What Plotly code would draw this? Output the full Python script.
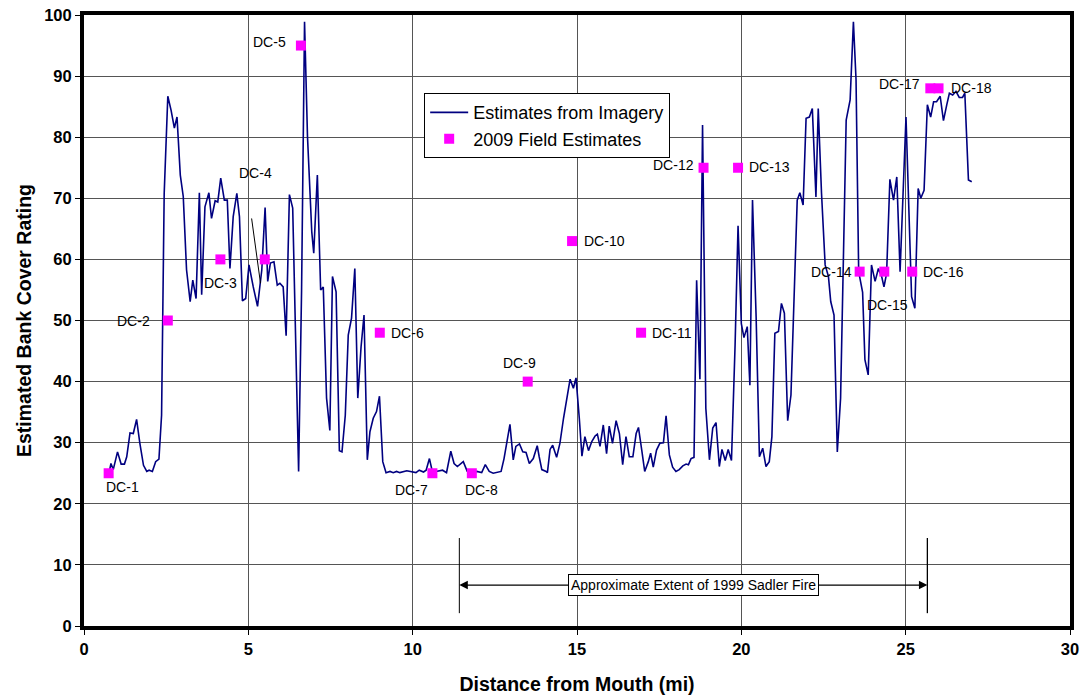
import plotly.graph_objects as go

# Bank cover rating estimated from aerial imagery along the channel
distance_mi = [
    0.78, 0.82, 0.89, 1.02, 1.13, 1.23, 1.30, 1.40, 1.50, 1.60, 1.70, 1.81, 1.91, 1.98, 2.08, 2.18,
    2.28, 2.36, 2.44, 2.55, 2.65, 2.75, 2.83, 2.93, 3.02, 3.12, 3.23, 3.31, 3.41, 3.51, 3.58, 3.68,
    3.80, 3.88, 3.99, 4.07, 4.16, 4.27, 4.36, 4.44, 4.54, 4.65, 4.73, 4.82, 4.92, 5.02, 5.15, 5.28,
    5.41, 5.51, 5.59, 5.67, 5.78, 5.88, 5.96, 6.06, 6.15, 6.25, 6.35, 6.44, 6.53, 6.62, 6.71, 6.80,
    6.93, 6.99, 7.10, 7.20, 7.28, 7.38, 7.48, 7.56, 7.67, 7.77, 7.85, 7.95, 8.04, 8.14, 8.24, 8.33,
    8.43, 8.52, 8.62, 8.70, 8.80, 8.90, 8.99, 9.09, 9.19, 9.31, 9.41, 9.51, 9.61, 9.82, 9.97, 10.10,
    10.20, 10.33, 10.41, 10.51, 10.61, 10.71, 10.91, 11.03, 11.16, 11.26, 11.36, 11.46, 11.54, 11.66,
    11.76, 11.95, 12.10, 12.21, 12.33, 12.45, 12.57, 12.69, 12.78, 12.96, 13.06, 13.14, 13.25, 13.35,
    13.45, 13.55, 13.67, 13.79, 13.85, 13.93, 14.06, 14.10, 14.18, 14.26, 14.38, 14.48, 14.59, 14.69,
    14.79, 14.89, 14.97, 15.07, 15.15, 15.24, 15.35, 15.45, 15.55, 15.62, 15.70, 15.80, 15.90, 15.98,
    16.08, 16.19, 16.29, 16.39, 16.49, 16.59, 16.70, 16.80, 16.87, 16.97, 17.06, 17.17, 17.24, 17.32,
    17.42, 17.52, 17.63, 17.71, 17.81, 17.91, 18.01, 18.11, 18.22, 18.32, 18.39, 18.47, 18.56, 18.64,
    18.74, 18.82, 18.92, 19.03, 19.13, 19.23, 19.33, 19.41, 19.51, 19.60, 19.70, 19.81, 19.90, 20.00,
    20.08, 20.18, 20.26, 20.34, 20.45, 20.55, 20.65, 20.75, 20.85, 20.93, 21.02, 21.13, 21.22, 21.31,
    21.41, 21.51, 21.70, 21.78, 21.88, 21.97, 22.07, 22.16, 22.27, 22.34, 22.44, 22.55, 22.65, 22.72,
    22.82, 22.92, 23.02, 23.19, 23.31, 23.41, 23.49, 23.57, 23.69, 23.76, 23.86, 23.96, 24.07, 24.17,
    24.27, 24.34, 24.42, 24.52, 24.63, 24.73, 24.83, 25.01, 25.18, 25.28, 25.38, 25.46, 25.56, 25.66,
    25.76, 25.85, 25.94, 26.05, 26.15, 26.25, 26.33, 26.43, 26.53, 26.63, 26.73, 26.80, 26.91, 27.01,
]
imagery_rating = [
    25.5, 26.6, 25.6, 28.5, 26.5, 26.5, 27.7, 31.6, 31.5, 33.8, 29.9, 26.3, 25.3, 25.5, 25.3, 26.9,
    27.3, 34.5, 70.8, 86.7, 84.4, 81.5, 83.3, 73.8, 70.3, 58.3, 53.1, 56.6, 53.6, 70.9, 54.2, 68.6,
    70.9, 66.7, 69.6, 69.4, 73.3, 69.7, 69.7, 58.5, 67.0, 70.8, 67.0, 53.2, 53.6, 59.1, 55.5, 52.3,
    58.3, 68.5, 56.4, 59.4, 59.6, 55.8, 56.1, 55.5, 47.5, 70.6, 68.4, 48.4, 25.3, 55.0, 98.9, 80.1,
    64.5, 61.0, 73.8, 55.0, 55.5, 37.3, 32.0, 57.2, 54.7, 28.7, 28.5, 34.5, 47.6, 50.4, 58.5, 37.3,
    45.7, 50.9, 27.2, 31.8, 34.0, 35.1, 37.6, 26.9, 25.1, 25.3, 25.1, 25.3, 25.1, 25.4, 25.3, 25.1,
    25.5, 25.2, 25.5, 27.4, 25.0, 25.3, 25.5, 25.1, 28.6, 26.6, 26.1, 26.5, 26.9, 25.3,
    25.1, 25.3, 25.1, 26.4, 25.3, 25.0, 25.2, 25.3, 27.4, 33.0, 27.2, 29.4, 29.8, 28.5,
    28.4, 26.6, 27.4, 29.5, 27.7, 25.6, 25.3, 25.1, 28.9, 29.6, 27.6, 29.9, 34.0, 37.0,
    40.4, 38.9, 40.6, 34.0, 27.8, 31.0, 28.7, 30.2, 31.1, 31.4, 29.4, 32.9, 28.2, 32.7,
    29.9, 33.6, 31.5, 26.4, 31.0, 27.7, 27.7, 31.5, 32.5, 28.8, 25.3, 26.9, 28.3, 26.0,
    28.8, 29.9, 30.0, 34.4, 28.0, 26.0, 25.3, 25.6, 26.2, 26.5, 26.4, 27.4, 27.6, 56.6,
    40.4, 82.0, 35.6, 27.2, 32.4, 33.3, 26.1, 28.9, 27.1, 28.9, 27.1, 46.0, 65.5, 49.5,
    47.2, 49.0, 39.4, 69.7, 50.6, 27.7, 29.1, 26.1, 26.9, 31.0, 47.9, 48.2, 52.8, 51.2,
    33.6, 37.8, 69.7, 70.9, 68.9, 83.1, 83.3, 84.7, 70.2, 84.7, 70.8, 59.1, 57.2, 53.1,
    50.9, 28.5, 37.3, 82.8, 86.1, 98.9, 89.4, 58.0, 54.6, 43.6, 41.1, 59.1, 56.4, 58.5,
    57.2, 55.5, 57.7, 73.1, 69.7, 73.5, 58.0, 83.3, 53.9, 52.0, 71.6, 70.0, 71.3, 85.3,
    83.3, 85.8, 85.8, 86.7, 82.7, 85.3, 87.2, 86.9, 87.5, 86.5, 86.5, 87.2, 73.0, 72.7,
]

# 2009 field estimates at the survey sites
site_names = ["DC-1", "DC-2", "DC-3", "DC-4", "DC-5", "DC-6", "DC-7", "DC-8", "DC-9",
              "DC-10", "DC-11", "DC-12", "DC-13", "DC-14", "DC-15", "DC-16", "DC-17", "DC-18"]
site_distance = [0.75, 2.55, 4.15, 5.5, 6.6, 9.0, 10.6, 11.8, 13.5,
                 14.85, 16.95, 18.85, 19.9, 23.6, 24.35, 25.2, 25.75, 26.0]
site_rating = [25, 50, 60, 60, 95, 48, 25, 25, 40,
               63, 48, 75, 75, 58, 58, 58, 88, 88]

# Extent of the 1999 Sadler Fire along the channel (mi)
fire_start, fire_end = 11.42, 25.66
fire_label = "Approximate Extent of 1999 Sadler Fire"

x_ticks = [0, 5, 10, 15, 20, 25, 30]
y_ticks = [0, 10, 20, 30, 40, 50, 60, 70, 80, 90, 100]

# Pixel offsets of each site label from its marker
label_offsets = [(14, -14), (-34, 0), (0, -24), (-9, 86), (-31, 4), (28, 0), (-21, -17),
                 (10, -17), (-8, 19), (32, 0), (31, 0), (-30, 3), (31, 1), (-28, 0),
                 (3, -33), (31, 0), (-31, 4), (33, 0)]

FONT = "Liberation Sans, Arial, sans-serif"

fig = go.Figure()
fig.add_trace(go.Scatter(
    x=distance_mi, y=imagery_rating, mode="lines", name="Estimates from Imagery",
    line=dict(color="#000080", width=1.6),
))
fig.add_trace(go.Scatter(
    x=site_distance, y=site_rating, mode="markers", name="2009 Field Estimates",
    marker=dict(color="#FF00FF", symbol="square", size=10, line=dict(width=0)),
))

annotations = []
for name, sx, sy, (dx, dy) in zip(site_names, site_distance, site_rating, label_offsets):
    annotations.append(dict(
        x=sx, y=sy, xref="x", yref="y", text=name, showarrow=False,
        xanchor="center", yanchor="middle", xshift=dx, yshift=dy,
        font=dict(family=FONT, size=14, color="black"),
    ))

# Double-headed arrow marking the fire extent
fire_mid = (fire_start + fire_end) / 2
arrow_y = 6.7
for head in (fire_start, fire_end):
    annotations.append(dict(
        x=head, y=arrow_y, ax=fire_mid, ay=arrow_y, xref="x", yref="y",
        axref="x", ayref="y", text="", showarrow=True, arrowhead=2,
        arrowsize=1.3, arrowwidth=1.3, arrowcolor="black", standoff=0,
    ))
annotations.append(dict(
    x=fire_mid, y=arrow_y, xref="x", yref="y", text=fire_label, showarrow=False,
    font=dict(family=FONT, size=14, color="black"), bgcolor="white",
    bordercolor="black", borderwidth=1, borderpad=2,
))

shapes = [
    dict(type="line", xref="x", yref="y", x0=fire_start, x1=fire_start, y0=2.1, y1=14.4,
         line=dict(color="black", width=1)),
    dict(type="line", xref="x", yref="y", x0=fire_end, x1=fire_end, y0=2.1, y1=14.4,
         line=dict(color="black", width=1.3)),
    # leader line for the DC-4 label
    dict(type="line", xref="x", yref="y", x0=5.10, y0=66.7, x1=5.37, y1=56.1,
         line=dict(color="black", width=1)),
]

fig.update_layout(
    width=1085, height=698,
    margin=dict(l=84, r=15, t=15, b=72, autoexpand=False),
    paper_bgcolor="white", plot_bgcolor="white",
    font=dict(family=FONT, color="black"),
    showlegend=True,
    legend=dict(
        x=0.345, y=0.872, xanchor="left", yanchor="top",
        bgcolor="white", bordercolor="black", borderwidth=1,
        font=dict(family=FONT, size=18, color="black"),
        itemwidth=38, tracegroupgap=2,
    ),
    annotations=annotations,
    shapes=shapes,
)
fig.update_xaxes(
    range=[0, 30], tickvals=x_ticks, showgrid=True, gridcolor="#555555", gridwidth=1,
    showline=True, linecolor="black", linewidth=4, mirror=True,
    ticks="outside", ticklen=5, tickcolor="black", tickwidth=1, automargin=False,
    tickfont=dict(family=FONT, size=16.5, weight="bold", color="black"),
    title=dict(text="Distance from Mouth (mi)", standoff=22,
               font=dict(family=FONT, size=19.5, weight="bold", color="black")),
    zeroline=False,
)
fig.update_yaxes(
    range=[0, 100], tickvals=y_ticks, showgrid=True, gridcolor="#555555", gridwidth=1,
    showline=True, linecolor="black", linewidth=4, mirror=True,
    ticks="outside", ticklen=5, tickcolor="black", tickwidth=1, automargin=False,
    tickfont=dict(family=FONT, size=16.5, weight="bold", color="black"),
    title=dict(text="Estimated Bank Cover Rating", standoff=8,
               font=dict(family=FONT, size=19.5, weight="bold", color="black")),
    zeroline=False,
)

fig.write_html("out.html")
